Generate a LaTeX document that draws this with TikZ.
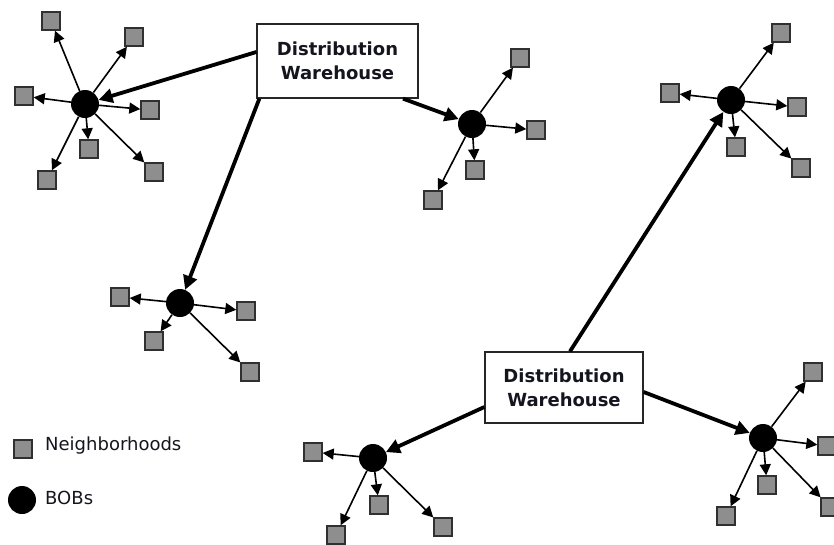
\documentclass[tikz,border=0pt]{standalone}
\usepackage{fontspec}
\setmainfont{DejaVu Sans}
\usetikzlibrary{arrows.meta}
\definecolor{sqfill}{HTML}{8E8E8E}
\definecolor{sqline}{HTML}{303030}
\definecolor{txt}{HTML}{15151F}
\tikzset{
  nbh/.style={draw=sqline, fill=sqfill, line width=1.4pt, minimum size=18pt, inner sep=0pt},
  bob/.style={circle, fill=black, minimum size=28pt, inner sep=0pt},
  whouse/.style={draw=black!85, line width=1.3pt, fill=white, align=center, inner sep=0pt,
    font=\fontsize{18}{24}\selectfont\bfseries, text=txt},
  thin/.style={line width=1.6pt, -{Triangle[length=11pt,width=11pt]}},
  thick/.style={line width=3.8pt, -{Triangle[length=14pt,width=14pt]}},
  legtext/.style={anchor=west, inner sep=0pt, font=\fontsize{18}{20}\selectfont, text=txt}
}
\begin{document}
\begin{tikzpicture}[x=1pt,y=-1pt]
\useasboundingbox (0,0) rectangle (834,544);
\clip (0,0) rectangle (834,544);
% warehouses
\node[whouse, minimum width=161pt, minimum height=74pt] (w1) at (337.5,61) {Distribution\\Warehouse};
\node[whouse, minimum width=158pt, minimum height=71pt] (w2) at (564,387.5) {Distribution\\Warehouse};
% BOBs
\node[bob] (b1) at (85,104) {};
\node[bob] (b2) at (472,124) {};
\node[bob] (b3) at (180,303) {};
\node[bob] (b4) at (731,100) {};
\node[bob] (b5) at (373,458) {};
\node[bob] (b6) at (763,438) {};
% neighborhoods
\foreach \n/\x/\y in {s11/51/21, s12/134/37, s13/24/96, s14/150/110, s15/89/149, s16/47/180, s17/154/172,
  s21/520/58, s22/536/130, s23/475/170, s24/433/200,
  s31/120/297, s32/246/311, s33/154/341, s34/250/372,
  s41/781/33, s42/670/93, s43/797/107, s44/736/147, s45/801/168,
  s51/313/452, s52/379/505, s53/336/535, s54/443/527,
  s61/813/372, s62/827/446, s63/767/485, s64/726/516, s65/830/507}
  \node[nbh] (\n) at (\x,\y) {};
% thin arrows
\foreach \s in {s11,s12,s13,s14,s15,s16,s17} \draw[thin] (b1) -- (\s);
\foreach \s in {s21,s22,s23,s24} \draw[thin] (b2) -- (\s);
\foreach \s in {s31,s32,s33,s34} \draw[thin] (b3) -- (\s);
\foreach \s in {s41,s42,s43,s44,s45} \draw[thin] (b4) -- (\s);
\foreach \s in {s51,s52,s53,s54} \draw[thin] (b5) -- (\s);
\foreach \s in {s61,s62,s63,s64,s65} \draw[thin] (b6) -- (\s);
% thick arrows
\draw[thick] ([yshift=9pt]w1.west) -- (b1);
\draw[thick] ([xshift=65.5pt]w1.south) -- (b2);
\draw[thick] ([xshift=3pt]w1.south west) -- (b3);
\draw[thick] ([xshift=6pt]w2.north) -- (b4);
\draw[thick] ([yshift=-19.5pt]w2.west) -- (b5);
\draw[thick] ([yshift=-4.5pt]w2.east) -- (b6);
% legend
\node[nbh] (lsq) at (23,449) {};
\node[bob] (lbob) at (22,500) {};
\node[legtext] (lt1) at (45,446) {Neighborhoods};
\node[legtext] (lt2) at (45,498) {BOBs};
\end{tikzpicture}
\end{document}
